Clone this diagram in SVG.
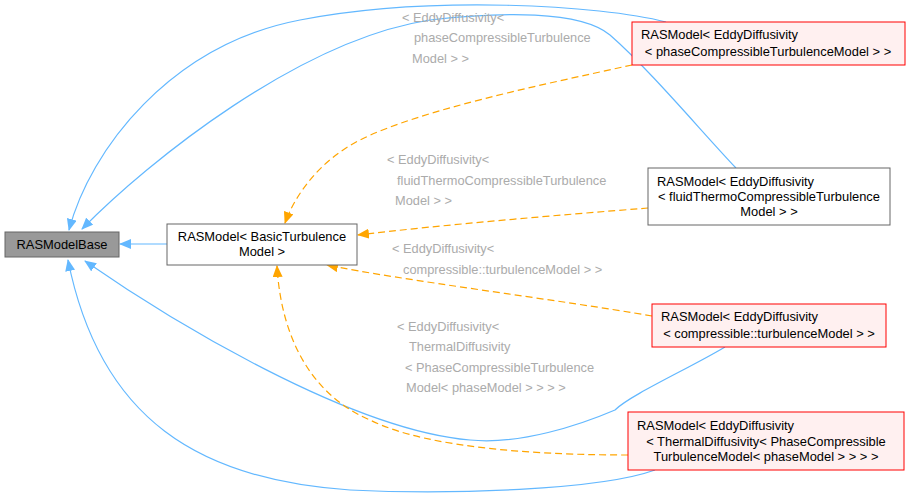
<svg xmlns="http://www.w3.org/2000/svg" width="909" height="498" viewBox="0 0 909 498">
<style>
text{font-family:"Liberation Sans",Arial,sans-serif;font-size:12.9px;fill:#000}
.l{fill:#ababab;font-size:12.8px}
.b{fill:none;stroke:#63b8ff;stroke-width:1.2}
.o{fill:none;stroke:#ffa500;stroke-width:1.2;stroke-dasharray:7,4}
.r{fill:#fff0f0;stroke:#ff0000}
.w{fill:#fff;stroke:#666}
</style>
<defs>
<marker id="ab" markerWidth="12" markerHeight="10" refX="11" refY="5" orient="auto" markerUnits="userSpaceOnUse"><path d="M0,0L12,5L0,10z" fill="#63b8ff"/></marker>
<marker id="ao" markerWidth="12" markerHeight="10" refX="11" refY="5" orient="auto" markerUnits="userSpaceOnUse"><path d="M0,0L12,5L0,10z" fill="#ffa500"/></marker>
</defs>
<g id="connectors">
<path class="b" marker-end="url(#ab)" d="M167,244H120"/>
<path class="b" marker-end="url(#ab)" d="M666,22C600,5 430,-5 300,20C170,45 90,150 69,230"/>
<path class="b" marker-end="url(#ab)" d="M736,168C700,130 650,70 610,35C580,10 500,12 430,20C300,40 150,160 82,229"/>
<path class="b" marker-end="url(#ab)" d="M725,347C690,368 630,395 615,410C580,425 520,445 470,440C350,430 170,320 85,261"/>
<path class="b" marker-end="url(#ab)" d="M655,470C600,490 450,495 350,490C200,480 100,420 68,260"/>
<path class="o" marker-end="url(#ao)" d="M632,65C540,85 420,110 360,140C320,160 295,195 285,223"/>
<path class="o" marker-end="url(#ao)" d="M648,208C560,215 440,225 358,235"/>
<path class="o" marker-end="url(#ao)" d="M652,316C560,300 400,280 327,265"/>
<path class="o" marker-end="url(#ao)" d="M628,455C550,455 430,450 370,420C300,390 280,320 277,266"/>
<text class="l" x="402" y="22">&lt; EddyDiffusivity&lt;</text>
<text class="l" x="414" y="42">phaseCompressibleTurbulence</text>
<text class="l" x="412" y="63">Model &gt; &gt;</text>
<text class="l" x="387" y="164">&lt; EddyDiffusivity&lt;</text>
<text class="l" x="397" y="185">fluidThermoCompressibleTurbulence</text>
<text class="l" x="395" y="205">Model &gt; &gt;</text>
<text class="l" x="392" y="253">&lt; EddyDiffusivity&lt;</text>
<text class="l" x="403" y="274">compressible::turbulenceModel &gt; &gt;</text>
<text class="l" x="397" y="331">&lt; EddyDiffusivity&lt;</text>
<text class="l" x="409" y="351">ThermalDiffusivity</text>
<text class="l" x="405" y="372">&lt; PhaseCompressibleTurbulence</text>
<text class="l" x="406" y="392">Model&lt; phaseModel &gt; &gt; &gt; &gt;</text>
</g>
<g id="base"><rect x="5" y="232" width="114" height="25" fill="#999" stroke="#666"/><text x="62" y="249" text-anchor="middle">RASModelBase</text></g>
<g id="basic"><rect class="w" x="167" y="224" width="190" height="41"/><text x="262" y="241" text-anchor="middle">RASModel&lt; BasicTurbulence</text><text x="262" y="256" text-anchor="middle">Model &gt;</text></g>
<g id="n1"><rect class="r" x="632" y="22" width="273" height="43"/><text x="641" y="39">RASModel&lt; EddyDiffusivity</text><text x="768" y="56" text-anchor="middle">&lt; phaseCompressibleTurbulenceModel &gt; &gt;</text></g>
<g id="n2"><rect class="w" x="648" y="168" width="242" height="57"/><text x="657" y="186">RASModel&lt; EddyDiffusivity</text><text x="769" y="201" text-anchor="middle">&lt; fluidThermoCompressibleTurbulence</text><text x="769" y="216" text-anchor="middle">Model &gt; &gt;</text></g>
<g id="n3"><rect class="r" x="652" y="304" width="234" height="43"/><text x="661" y="321">RASModel&lt; EddyDiffusivity</text><text x="769" y="338" text-anchor="middle">&lt; compressible::turbulenceModel &gt; &gt;</text></g>
<g id="n4"><rect class="r" x="628" y="412" width="276" height="58"/><text x="637" y="430">RASModel&lt; EddyDiffusivity</text><text x="766" y="446" text-anchor="middle">&lt; ThermalDiffusivity&lt; PhaseCompressible</text><text x="766" y="461" text-anchor="middle">TurbulenceModel&lt; phaseModel &gt; &gt; &gt; &gt;</text></g>
</svg>
